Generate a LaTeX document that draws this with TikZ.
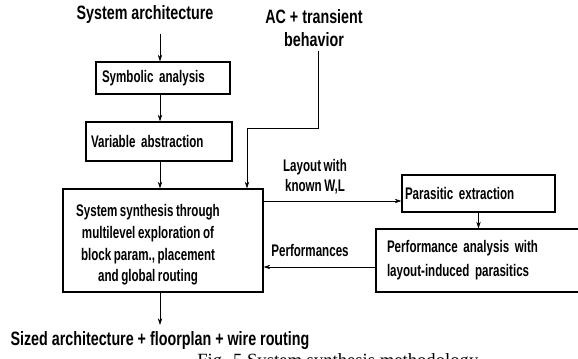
\documentclass[tikz,border=0pt]{standalone}
\usepackage{fontspec}
\setmainfont{Liberation Sans}
\newfontfamily\ttlf[FakeStretch=0.74]{Liberation Sans}
\newfontfamily\bxf[FakeStretch=0.69,WordSpace=0.8]{Liberation Sans}
\newfontfamily\capf{Liberation Serif}
\usetikzlibrary{arrows.meta}
\begin{document}
\begin{tikzpicture}[x=0.75pt,y=-0.75pt,
  ttl/.style={font=\ttlf\bfseries\fontsize{14.5pt}{17pt}\selectfont, inner sep=0, align=center},
  txt/.style={font=\bxf\bfseries\fontsize{12.6pt}{16.3pt}\selectfont, inner sep=0},
  box/.style={draw, line width=0.8pt, inner sep=0, txt},
  arr/.style={-{Stealth[length=5pt,width=3.2pt]}, line width=0.5pt}]
\useasboundingbox (0,0) rectangle (578,359);
\clip (0,0) rectangle (578,359);
% nodes
\node[ttl] (sa) at (145,15) {System architecture};
\node[ttl] (ac) at (314,28) {AC + transient\\behavior};
\node[box, minimum width=100.5pt, minimum height=24pt, text width=91.5pt, align=left] (sym) at (163,78) {Symbolic analysis};
\node[box, minimum width=109.5pt, minimum height=29.25pt, text width=102pt, align=left] (var) at (159,141.5) {Variable abstraction};
\node[box, minimum width=150pt, minimum height=77.25pt] (syn) at (163,240.5) {};
\node[txt, align=center] (syntxt) at (148,245) {System synthesis through\\multilevel exploration of\\block param., placement\\and global routing};
\node[box, minimum width=114.75pt, minimum height=27.75pt, text width=110.25pt, align=left] (par) at (478.5,193.5) {Parasitic extraction};
\node[box, minimum width=168pt, minimum height=47.25pt, text width=151.5pt, align=left, font=\bxf\bfseries\fontsize{12.6pt}{18pt}\selectfont] (perf) at (488,260.5) {Performance analysis with\\layout-induced parasitics};
\node[txt, align=center, font=\bxf\bfseries\fontsize{12.6pt}{15pt}\selectfont] (lay) at (315,177) {Layout with\\known W,L};
\node[txt] (perfl) at (310,250) {Performances};
\node[ttl] (sized) at (160,341) {Sized architecture + floorplan + wire routing};
\node[anchor=north west, inner sep=0, font=\capf\fontsize{14pt}{17pt}\selectfont] (cap) at (197,353) {Fig. 5 System synthesis methodology};
% connectors
\coordinate (sp) at (160,0);
\coordinate (acx) at (318,0);
\coordinate (bend) at (247,128);
\coordinate (layy) at (0,201);
\coordinate (perfy) at (0,267);
\draw[arr, shorten <=7pt] (sa.south -| sp) -- (sym.north -| sp);
\draw[arr] (sym.south -| sp) -- (var.north -| sp);
\draw[arr] (var.south -| sp) -- (syn.north -| sp);
\draw[arr, shorten <=3pt] (ac.south -| acx) |- (bend) -- (bend |- syn.north);
\draw[arr] (syn.east |- layy) -- (par.west |- layy);
\draw[arr] (par.south) -- (perf.north -| par.south);
\draw[arr] (perf.west |- perfy) -- (syn.east |- perfy);
\draw[arr, shorten >=5pt] (syn.south -| sp) -- (sized.north -| sp);
\end{tikzpicture}
\end{document}
